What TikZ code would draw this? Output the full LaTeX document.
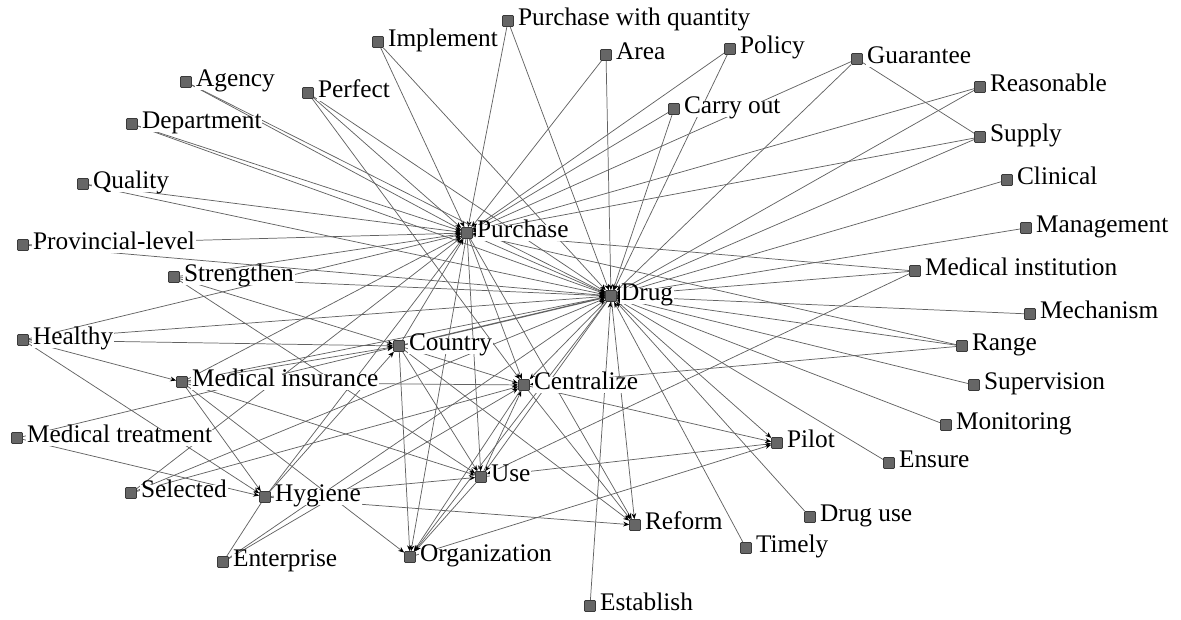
\documentclass[tikz,border=0pt]{standalone}
\usepackage{fontspec}
\setmainfont{Liberation Serif}
\usetikzlibrary{arrows.meta}
\definecolor{edgegray}{RGB}{98,98,98}
\definecolor{boxgray}{RGB}{102,102,102}
\definecolor{boxedge}{RGB}{58,58,58}
\pgfdeclarelayer{bg}
\pgfsetlayers{bg,main}
\tikzset{
  sq/.style={rectangle, minimum size=8.2pt, inner sep=0pt, fill=boxgray, draw=boxedge, line width=0.5pt, rounded corners=0.6pt},
  lab/.style={font=\fontsize{19}{23}\selectfont, fill=white, inner sep=0.6pt, text height=0.9em, text depth=0.24em},
  plain/.style={draw=edgegray, line width=0.55pt},
  arc/.style={plain, -{Stealth[length=4.5pt,width=3.6pt,color=black]}},
  every label/.style={label distance=2.4pt}
}
\begin{document}
\begin{tikzpicture}[x=0.75pt,y=0.75pt,yscale=-1,xscale=1]
	\useasboundingbox (0,0) rectangle (1181,620);

	% Text Node
	\node[sq,label={[lab]right:Purchase with quantity}] (pwq) at (508,21) {};
	% Text Node
	\node[sq,label={[lab]right:Implement}] (impl) at (378,42) {};
	% Text Node
	\node[sq,label={[lab]right:Area}] (area) at (606,55) {};
	% Text Node
	\node[sq,label={[lab]right:Policy}] (pol) at (730,49) {};
	% Text Node
	\node[sq,label={[lab]right:Guarantee}] (guar) at (857,59) {};
	% Text Node
	\node[sq,label={[lab]right:Reasonable}] (reas) at (980,87) {};
	% Text Node
	\node[sq,label={[lab]right:Agency}] (agen) at (186,82) {};
	% Text Node
	\node[sq,label={[lab]right:Perfect}] (perf) at (308,93) {};
	% Text Node
	\node[sq,label={[lab]right:Carry out}] (cout) at (674,109) {};
	% Text Node
	\node[sq,label={[lab]right:Department}] (dept) at (132,124) {};
	% Text Node
	\node[sq,label={[lab]right:Supply}] (supp) at (980,137) {};
	% Text Node
	\node[sq,label={[lab]right:Clinical}] (clin) at (1007,180) {};
	% Text Node
	\node[sq,label={[lab]right:Quality}] (qual) at (83,184) {};
	% Text Node
	\node[sq,label={[lab]right:Management}] (mgmt) at (1026,228) {};
	% Text Node
	\node[sq,label={[lab]right:Purchase}] (pur) at (467,233) {};
	% Text Node
	\node[sq,label={[lab]right:Provincial-level}] (prov) at (23,245) {};
	% Text Node
	\node[sq,label={[lab]right:Medical institution}] (minst) at (915,271) {};
	% Text Node
	\node[sq,label={[lab]right:Strengthen}] (stren) at (174,277) {};
	% Text Node
	\node[sq,label={[lab]right:Drug}] (drug) at (611,296) {};
	% Text Node
	\node[sq,label={[lab]right:Mechanism}] (mech) at (1030,314) {};
	% Text Node
	\node[sq,label={[lab]right:Healthy}] (heal) at (23,340) {};
	% Text Node
	\node[sq,label={[lab]right:Country}] (ctry) at (399,346) {};
	% Text Node
	\node[sq,label={[lab]right:Range}] (rang) at (962,346) {};
	% Text Node
	\node[sq,label={[lab]right:Medical insurance}] (mins) at (182,382) {};
	% Text Node
	\node[sq,label={[lab]right:Centralize}] (cent) at (524,385) {};
	% Text Node
	\node[sq,label={[lab]right:Supervision}] (supv) at (974,385) {};
	% Text Node
	\node[sq,label={[lab]right:Monitoring}] (moni) at (946,425) {};
	% Text Node
	\node[sq,label={[lab]right:Medical treatment}] (mtre) at (17,438) {};
	% Text Node
	\node[sq,label={[lab]right:Pilot}] (pilo) at (777,443) {};
	% Text Node
	\node[sq,label={[lab]right:Ensure}] (ensu) at (889,463) {};
	% Text Node
	\node[sq,label={[lab]right:Use}] (use) at (481,477) {};
	% Text Node
	\node[sq,label={[lab]right:Selected}] (sele) at (131,493) {};
	% Text Node
	\node[sq,label={[lab]right:Hygiene}] (hyg) at (265,497) {};
	% Text Node
	\node[sq,label={[lab]right:Drug use}] (dgus) at (810,517) {};
	% Text Node
	\node[sq,label={[lab]right:Reform}] (refo) at (635,525) {};
	% Text Node
	\node[sq,label={[lab]right:Timely}] (time) at (746,548) {};
	% Text Node
	\node[sq,label={[lab]right:Organization}] (orgn) at (410,557) {};
	% Text Node
	\node[sq,label={[lab]right:Enterprise}] (entp) at (223,562) {};
	% Text Node
	\node[sq,label={[lab]right:Establish}] (esta) at (590,606) {};

	\begin{pgfonlayer}{bg}
	% Connection
	\draw[arc] (pwq) -- (pur);
	\draw[arc] (pwq) -- (drug);
	% Connection
	\draw[arc] (impl) -- (pur);
	\draw[arc] (impl) -- (drug);
	% Connection
	\draw[arc] (area) -- (pur);
	\draw[arc] (area) -- (drug);
	% Connection
	\draw[arc] (pol) -- (pur);
	\draw[arc] (pol) -- (drug);
	% Connection
	\draw[arc] (guar) -- (pur);
	\draw[arc] (guar) -- (drug);
	\draw[plain] (guar) -- (supp);
	% Connection
	\draw[arc] (reas) -- (pur);
	\draw[arc] (reas) -- (drug);
	% Connection
	\draw[arc] (supp) -- (pur);
	\draw[arc] (supp) -- (drug);
	% Connection
	\draw[arc] (cout) -- (pur);
	\draw[arc] (cout) -- (drug);
	% Connection
	\draw[arc] (clin) -- (drug);
	\draw[arc] (mgmt) -- (drug);
	\draw[arc] (mech) -- (drug);
	% Connection
	\draw[arc] (minst) -- (pur);
	\draw[arc] (minst) -- (drug);
	\draw[arc] (minst) -- (use);
	% Connection
	\draw[arc] (rang) -- (pur);
	\draw[arc] (rang) -- (drug);
	\draw[arc] (rang) -- (cent);
	% Connection
	\draw[arc] (supv) -- (drug);
	\draw[arc] (moni) -- (drug);
	\draw[arc] (ensu) -- (drug);
	\draw[arc] (dgus) -- (drug);
	\draw[arc] (time) -- (drug);
	\draw[arc] (esta) -- (drug);
	% Connection
	\draw[arc] (agen) -- (pur);
	\draw[arc] (agen) -- (drug);
	% Connection
	\draw[arc] (dept) -- (pur);
	\draw[arc] (dept) -- (drug);
	% Connection
	\draw[arc] (perf) -- (pur);
	\draw[arc] (perf) -- (drug);
	\draw[arc] (perf) -- (cent);
	% Connection
	\draw[arc] (qual) -- (pur);
	\draw[arc] (qual) -- (drug);
	% Connection
	\draw[arc] (prov) -- (pur);
	\draw[arc] (prov) -- (drug);
	% Connection
	\draw[arc] (stren) -- (pur);
	\draw[arc] (stren) -- (drug);
	\draw[arc] (stren) -- (ctry);
	\draw[arc] (stren) -- (use);
	% Connection
	\draw[arc] (heal) -- (pur);
	\draw[arc] (heal) -- (drug);
	\draw[arc] (heal) -- (ctry);
	\draw[arc] (heal) -- (mins);
	\draw[arc] (heal) -- (hyg);
	% Connection
	\draw[arc] (mtre) -- (ctry);
	\draw[arc] (mtre) -- (hyg);
	% Connection
	\draw[arc] (sele) -- (pur);
	\draw[arc] (sele) -- (cent);
	\draw[arc] (sele) -- (drug);
	% Connection
	\draw[plain] (entp) -- (hyg);
	\draw[arc] (entp) -- (cent);
	\draw[arc] (entp) -- (drug);
	% Connection
	\draw[arc] (mins) -- (pur);
	\draw[arc] (mins) -- (drug);
	\draw[arc] (mins) -- (ctry);
	\draw[arc] (mins) -- (cent);
	\draw[arc] (mins) -- (use);
	\draw[arc] (mins) -- (hyg);
	\draw[arc] (mins) -- (orgn);
	% Connection
	\draw[arc] (hyg) -- (pur);
	\draw[arc] (hyg) -- (ctry);
	\draw[arc] (hyg) -- (use);
	\draw[arc] (hyg) -- (refo);
	% Connection
	\draw[arc] (ctry) -- (pur);
	\draw[arc, line width=1pt] (ctry) -- (drug);
	\draw[arc] (ctry) -- (cent);
	\draw[arc] (ctry) -- (use);
	\draw[arc] (ctry) -- (orgn);
	\draw[arc] (ctry) -- (refo);
	% Connection
	\draw[arc] (pur) -- (drug);
	\draw[arc] (pur) -- (cent);
	\draw[arc] (pur) -- (use);
	\draw[arc] (pur) -- (orgn);
	\draw[arc] (pur) -- (refo);
	% Connection
	\draw[arc] (drug) -- (cent);
	\draw[arc] (drug) -- (use);
	\draw[arc] (drug) -- (orgn);
	\draw[arc] (drug) -- (refo);
	\draw[arc] (drug) -- (pilo);
	% Connection
	\draw[arc] (use) -- (cent);
	\draw[arc] (cent) -- (orgn);
	\draw[arc] (cent) -- (refo);
	\draw[arc] (cent) -- (pilo);
	% Connection
	\draw[arc] (use) -- (pilo);
	\draw[arc] (use) -- (orgn);
	\draw[arc] (orgn) -- (pilo);
	\end{pgfonlayer}

\end{tikzpicture}
\end{document}
